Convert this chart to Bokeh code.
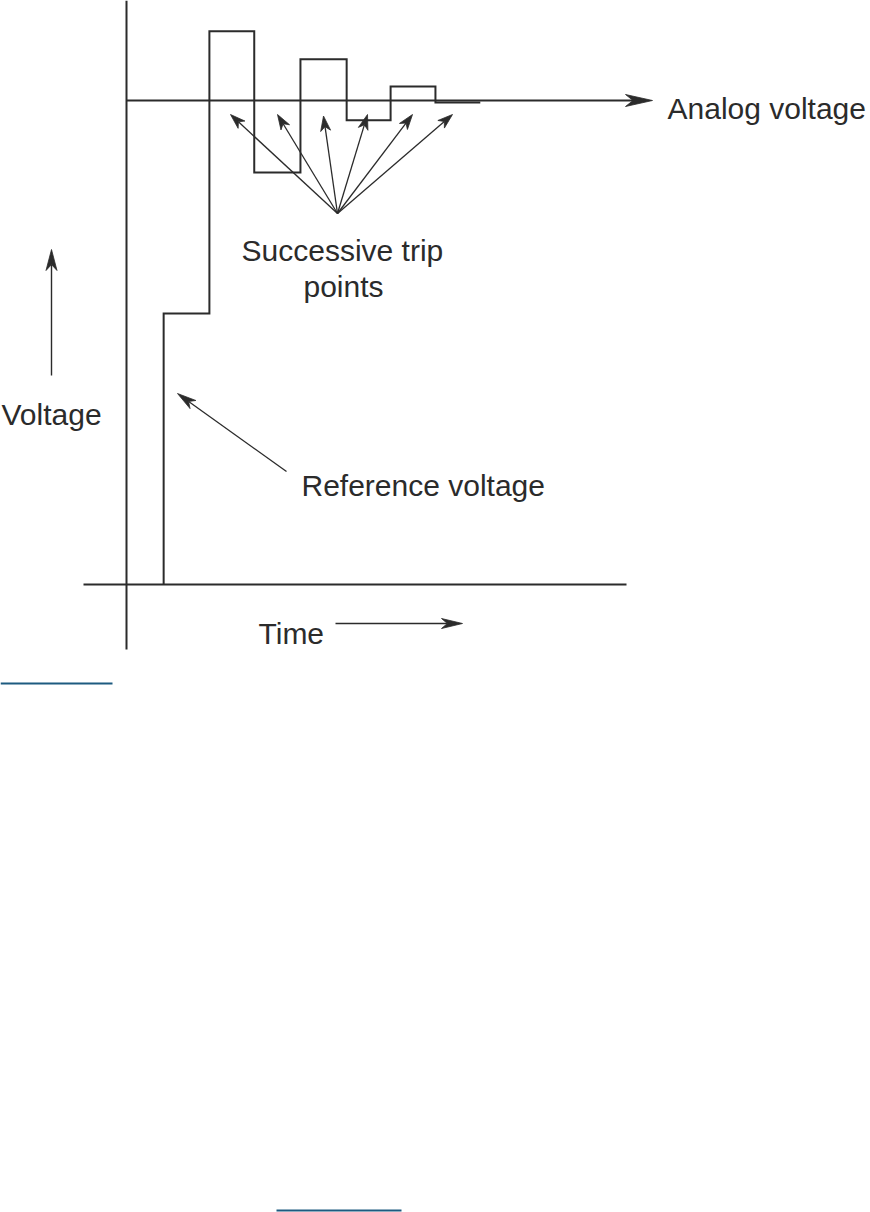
import math
from bokeh.plotting import figure
from bokeh.models import Range1d
from bokeh.core.properties import value
from bokeh.embed import file_html
from bokeh.resources import INLINE

# ---------------- data (time in steps, voltage with analog level = 10) ----------------
step_edges_t = [0.82, 1.83, 2.82, 3.84, 4.86, 5.83, 6.82, 7.81]
step_levels_v = [5.60, 11.43, 8.51, 10.85, 9.59, 10.29, 9.96]
analog_v = 10.0

label_analog = "Analog voltage"
label_trip = ["Successive trip", "points"]
label_reference = "Reference voltage"
label_voltage = "Voltage"
label_time = "Time"

# ---------------- layout (page pixels) ----------------
FIG_W, FIG_H = 870, 1212
MARGIN = 0
ORIGIN_X, ORIGIN_Y = 126, 584
PX_PER_T, PX_PER_V = 45.3, 48.4
INK = "#2b2b2b"
LINK = "#1d5b80"
FONT = "Liberation Sans"
FSIZE = "30px"


def tx(px):
    return (px - ORIGIN_X) / PX_PER_T


def vy(py):
    return (ORIGIN_Y - py) / PX_PER_V


def py_of_v(v):
    return ORIGIN_Y - v * PX_PER_V


p = figure(width=FIG_W, height=FIG_H,
           x_range=Range1d(tx(MARGIN), tx(MARGIN + FIG_W)),
           y_range=Range1d(vy(MARGIN + FIG_H), vy(MARGIN)),
           output_backend="svg", toolbar_location=None,
           x_axis_type=None, y_axis_type=None, min_border=0)
p.grid.visible = False
p.outline_line_color = None
p.background_fill_color = "white"
p.border_fill_color = "white"

# axes of the diagram
p.line([0, 0], [vy(0), vy(649)], line_color=INK, line_width=2)
p.line([tx(83), tx(626)], [0, 0], line_color=INK, line_width=2)

# step (reference voltage) signal
xs = [step_edges_t[0]]
ys = [0.0]
for i, lvl in enumerate(step_levels_v):
    xs += [step_edges_t[i], step_edges_t[i + 1]]
    ys += [lvl, lvl]
p.line(xs, ys, line_color=INK, line_width=2, line_join="miter")

# arrows
shaft_x0, shaft_y0, shaft_x1, shaft_y1, shaft_w = [], [], [], [], []
head_xs, head_ys = [], []


def arrow(tail, tip, L, W, lw):
    dx, dy = tip[0] - tail[0], tip[1] - tail[1]
    n = math.hypot(dx, dy)
    ux, uy = dx / n, dy / n
    nx, ny = -uy, ux
    bx, by = tip[0] - L * ux, tip[1] - L * uy
    notch = (tip[0] - 0.72 * L * ux, tip[1] - 0.72 * L * uy)
    pts = [tip, (bx + W / 2 * nx, by + W / 2 * ny), notch, (bx - W / 2 * nx, by - W / 2 * ny)]
    head_xs.append([tx(a) for a, b in pts])
    head_ys.append([vy(b) for a, b in pts])
    shaft_x0.append(tx(tail[0]))
    shaft_y0.append(vy(tail[1]))
    shaft_x1.append(tx(notch[0]))
    shaft_y1.append(vy(notch[1]))
    shaft_w.append(lw)


# analog voltage level with arrow
arrow((ORIGIN_X, py_of_v(analog_v)), (652, py_of_v(analog_v)), 27, 12, 2)
# voltage arrow
arrow((51, 375), (51, 249), 21, 11, 1.4)
# time arrow
arrow((335, 623), (462, 623), 21, 10, 1.4)
# reference voltage pointer
arrow((286, 471), (177, 393), 19, 10, 1.3)
# successive trip points
fan = (337, 213)
for tip in [(230, 114), (277, 114), (323, 115.5), (367, 114), (412, 114), (452, 114)]:
    arrow(fan, tip, 15, 10, 1.3)

p.segment(shaft_x0, shaft_y0, shaft_x1, shaft_y1, line_color=INK, line_width=shaft_w)
p.patches(head_xs, head_ys, fill_color=INK, line_color=INK, line_width=0.8)

# labels
tl = dict(text_font=value(FONT), text_font_size=value(FSIZE), text_color=INK,
          text_baseline="alphabetic", text_align="left")
p.text([tx(667)], [vy(108)], text=[label_analog], **tl)
p.text([tx(241)], [vy(250)], text=[label_trip[0]], **tl)
p.text([tx(303)], [vy(286)], text=[label_trip[1]], **tl)
p.text([tx(301)], [vy(485)], text=[label_reference], **tl)
p.text([tx(1)], [vy(414)], text=[label_voltage], **tl)
p.text([tx(258)], [vy(633)], text=[label_time], **tl)

# page rules (link underlines)
p.line([tx(0), tx(112)], [vy(683), vy(683)], line_color=LINK, line_width=2)
p.line([tx(276), tx(401)], [vy(1210), vy(1210)], line_color=LINK, line_width=2)

open("out.html", "w").write(file_html(p, INLINE))
